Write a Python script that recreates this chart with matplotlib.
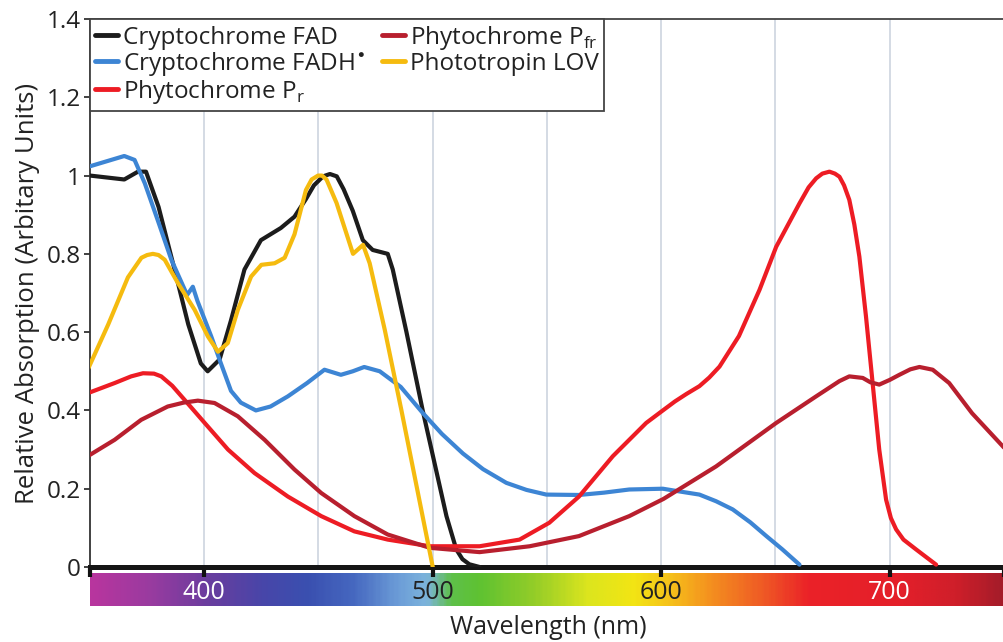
import numpy as np
import matplotlib
matplotlib.use("Agg")
import matplotlib.pyplot as plt
from matplotlib.colors import LinearSegmentedColormap
from matplotlib.ticker import FuncFormatter

plt.rcParams['font.family'] = ['Open Sans', 'DejaVu Sans']

##### data #####
fad_wl = [350, 365, 371, 374.5, 380, 387, 393, 398.5, 401.5, 406.7, 411.7, 417.6, 424.8, 433.5,
          439.5, 444.5, 448, 452, 455, 458, 461, 465, 469.4, 473.7, 480.3, 482.5, 488.5, 495.6,
          506, 510.3, 513, 516, 520.5]
fad_val = [1.00, 0.99, 1.01, 1.01, 0.92, 0.76, 0.62, 0.52, 0.50, 0.53, 0.63, 0.76, 0.835, 0.866,
           0.895, 0.94, 0.975, 0.998, 1.004, 0.998, 0.965, 0.91, 0.835, 0.81, 0.80, 0.76, 0.60,
           0.40, 0.13, 0.045, 0.02, 0.007, 0.0]

fadh_wl = [349, 365, 369.5, 374, 380, 385.6, 392.5, 395, 397, 403, 407.3, 411.7, 416, 422.6, 429,
           436.6, 445, 452.6, 459.8, 465, 470, 476.8, 486, 495.7, 504, 513.2, 522, 532.2, 541,
           549.7, 564, 575, 586, 600.7, 608, 616.7, 624, 631.3, 639, 646, 653, 660.5]
fadh_val = [1.022, 1.05, 1.04, 0.98, 0.88, 0.785, 0.695, 0.716, 0.68, 0.59, 0.52, 0.45, 0.42, 0.40,
            0.41, 0.436, 0.47, 0.504, 0.491, 0.50, 0.511, 0.50, 0.46, 0.393, 0.34, 0.29, 0.25,
            0.215, 0.197, 0.185, 0.184, 0.19, 0.198, 0.20, 0.193, 0.185, 0.168, 0.147, 0.114,
            0.079, 0.045, 0.006]

pr_wl = [349, 360.8, 368, 373.2, 378, 381.2, 386, 391.4, 400.2, 410.4, 422, 436.6, 451.2, 465.7,
         480.3, 498.7, 520.5, 538, 551, 564, 578.8, 593.4, 600.7, 606, 611, 616.7, 621, 625.5,
         634, 643, 650.3, 660.5, 664.5, 667.8, 670.5, 673.6, 676, 678, 680, 682.3, 684.5, 686.7,
         689.6, 692.5, 695.4, 698.4, 700.5, 702.8, 706, 711.5, 716, 720.3]
pr_val = [0.444, 0.47, 0.487, 0.495, 0.494, 0.487, 0.463, 0.427, 0.368, 0.30, 0.24, 0.18, 0.13,
          0.091, 0.07, 0.053, 0.053, 0.07, 0.113, 0.18, 0.283, 0.368, 0.40, 0.423, 0.442, 0.462,
          0.484, 0.512, 0.59, 0.708, 0.818, 0.929, 0.97, 0.993, 1.005, 1.01, 1.005, 0.997, 0.975,
          0.938, 0.875, 0.793, 0.64, 0.47, 0.30, 0.172, 0.125, 0.096, 0.07, 0.045, 0.025, 0.006]

pfr_wl = [349, 360.8, 372.4, 384, 391, 397.2, 404.5, 414.7, 426.4, 439.5, 451.2, 465.7, 480.3,
          498.7, 520.5, 542.4, 564, 586, 601, 624, 650.3, 667.8, 678, 682.3, 688.2, 691.5, 695.4,
          700, 704.2, 709, 713, 718.8, 726, 736, 750]
pfr_val = [0.283, 0.325, 0.376, 0.41, 0.42, 0.425, 0.419, 0.385, 0.325, 0.249, 0.189, 0.13, 0.083,
           0.049, 0.038, 0.053, 0.079, 0.13, 0.174, 0.257, 0.368, 0.436, 0.475, 0.487, 0.483,
           0.472, 0.466, 0.478, 0.491, 0.505, 0.511, 0.504, 0.47, 0.393, 0.305]

lov_wl = [349, 358, 366.6, 372.5, 375, 377.5, 380, 382.7, 388.5, 395.8, 401.6, 406, 410.3, 414.7,
          420.5, 425, 430.8, 435.2, 439.5, 444.5, 447, 449.8, 451.5, 453.5, 457.9, 465.1, 469.5,
          472.4, 479, 486.3, 500]
lov_val = [0.504, 0.62, 0.74, 0.79, 0.797, 0.80, 0.797, 0.785, 0.725, 0.657, 0.589, 0.55, 0.572,
           0.657, 0.742, 0.772, 0.776, 0.79, 0.85, 0.963, 0.99, 1.00, 1.0, 0.99, 0.93, 0.80, 0.823,
           0.776, 0.606, 0.40, 0.0]

series_labels = ['Cryptochrome FAD', 'Cryptochrome FADH$^{\\bullet}$', 'Phytochrome P$_{\\mathregular{r}}$',
                 'Phytochrome P$_{\\mathregular{fr}}$', 'Phototropin LOV']
series_colors = ['#1c1c1c', '#3d85d4', '#ed1c24', '#b81f2e', '#f5bb0f']

wl_ticks = [400, 500, 600, 700]
wl_tick_colors = ['white', '#222222', '#222222', 'white']

# spectrum colour stops (wavelength, colour)
spec_stops = [(350, '#b8359e'), (375, '#9a3ba0'), (400, '#6b3d9e'), (425, '#4846a9'),
              (445, '#3a50b0'), (465, '#4668c0'), (485, '#6d9ed8'), (497, '#7cb3dc'),
              (508, '#5fc04a'), (520, '#5ec232'), (545, '#95cd28'), (568, '#dce51e'),
              (588, '#f2e514'), (603, '#f6c41a'), (622, '#f4901f'), (645, '#ef5a25'),
              (665, '#eb2228'), (705, '#e41f2a'), (730, '#cf1f2a'), (750, '#a51c29')]

##### figure #####
fig = plt.figure(figsize=(10.04, 6.42), dpi=100)
ax = fig.add_axes([90/1004, 75/642, 914/1004, 548/642])
ax_sp = fig.add_axes([90/1004, 36/642, 914/1004, 33/642])
ax.set_zorder(2)
ax_sp.set_zorder(1)

all_wl = [fad_wl, fadh_wl, pr_wl, pfr_wl, lov_wl]
all_val = [fad_val, fadh_val, pr_val, pfr_val, lov_val]
for wl, val, lab, col in zip(all_wl, all_val, series_labels, series_colors):
    ax.plot(wl, val, color=col, lw=3.0, label=lab, solid_joinstyle='round',
            solid_capstyle='round', zorder=3)

ax.set_xlim(350, 750)
ax.set_ylim(0, 1.4)
for g in range(400, 750, 50):
    ax.axvline(g, color='#d4dae4', lw=1.4, zorder=1)

ax.set_yticks(np.arange(0, 1.41, 0.2))
ax.yaxis.set_major_formatter(FuncFormatter(lambda v, p: ('%.1f' % v).rstrip('0').rstrip('.')))
ax.tick_params(axis='y', direction='out', length=4.5, width=1.3, color='#333333',
               labelsize=17.5, pad=2, labelcolor='#222222')
ax.set_xticks([350, 400, 500, 600, 700, 750])
ax.tick_params(axis='x', direction='out', length=7.5, width=3, color='#111111', labelbottom=False)

ax.spines['bottom'].set_linewidth(3.6)
ax.spines['bottom'].set_color('#151515')
ax.spines['left'].set_linewidth(1.3)
ax.spines['left'].set_color('#333333')
ax.spines['top'].set_linewidth(1.3)
ax.spines['top'].set_color('#444444')
ax.spines['right'].set_visible(False)

ax.set_ylabel('Relative Absorption (Arbitary Units)', fontsize=18.5, color='#222222', labelpad=5)

leg = ax.legend(loc='upper left', bbox_to_anchor=(0, 1), ncol=2, fontsize=17.5, frameon=True,
                fancybox=False, framealpha=1, edgecolor='#444444', borderaxespad=0,
                handlelength=0.95, handletextpad=0.2, labelspacing=0.0, columnspacing=0.7,
                borderpad=0.2)
leg.get_frame().set_linewidth(1.3)
for t in leg.get_texts():
    t.set_color('#222222')
for h in leg.get_lines():
    h.set_linewidth(3.5)

# spectrum bar
cmap = LinearSegmentedColormap.from_list(
    'spec', [((w - 350) / 400, c) for w, c in spec_stops])
ax_sp.imshow(np.linspace(0, 1, 400)[None, :], aspect='auto', cmap=cmap,
             extent=[350, 750, 0, 1])
ax_sp.set_xlim(350, 750)
ax_sp.set_ylim(0, 1)
ax_sp.axis('off')
for w, c in zip(wl_ticks, wl_tick_colors):
    ax_sp.text(w, 0.42, str(w), color=c, fontsize=18, ha='center', va='center')

fig.text(548/1004, 1 - 628/642, 'Wavelength (nm)', fontsize=18, color='#222222',
         ha='center', va='center')

fig.savefig('out.png', dpi=100)
